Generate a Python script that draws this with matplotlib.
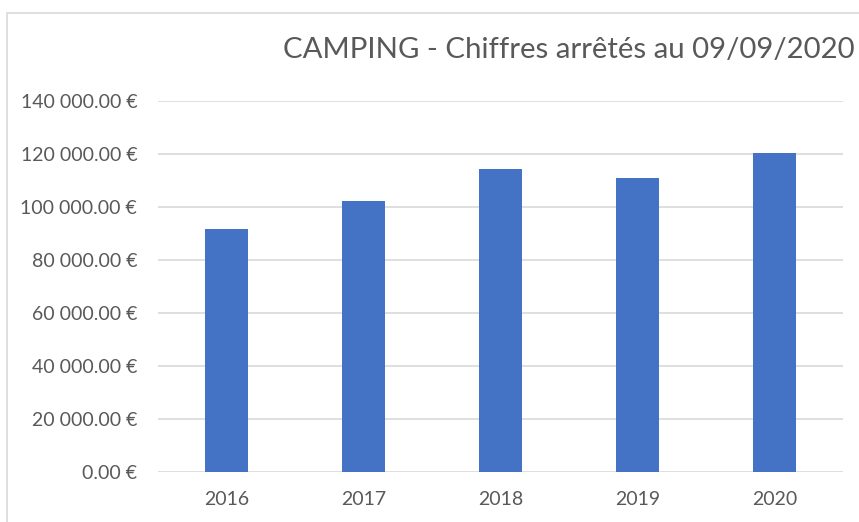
import matplotlib.pyplot as plt
from matplotlib.patches import Rectangle
from matplotlib.ticker import FuncFormatter

years = ['2016', '2017', '2018', '2019', '2020']
chiffres = [91600, 102300, 114300, 110800, 120500]
y_ticks = [0, 20000, 40000, 60000, 80000, 100000, 120000, 140000]
titre = 'CAMPING - Chiffres arrêtés au 09/09/2020'

plt.rcParams['font.family'] = ['Lato', 'DejaVu Sans']

fig = plt.figure(figsize=(8.59, 5.22), dpi=100)
# cadre du graphique (coupé à droite et en bas)
fig.patches.append(Rectangle((7 / 859, -0.1), 1.2, 1.1 - 13 / 522, transform=fig.transFigure,
                             fill=False, edgecolor='#d9d9d9', linewidth=1.2))

ax = fig.add_axes([158 / 859, 1 - 472 / 522, (843 - 158) / 859, (472 - 101) / 522])
ax.bar(range(len(years)), chiffres, width=0.32, color='#4472C4', zorder=3)
ax.set_xlim(-0.5, len(years) - 0.5)
ax.set_ylim(0, 140000)
ax.set_yticks(y_ticks)
ax.set_xticks(range(len(years)))
ax.set_xticklabels(years)
ax.yaxis.set_major_formatter(FuncFormatter(lambda v, p: f"{v:,.2f}".replace(',', ' ') + ' €'))
ax.grid(axis='y', color='#d9d9d9', linewidth=1.2, zorder=0)
for s in ax.spines.values():
    s.set_visible(False)
ax.tick_params(length=0, colors='#595959', labelsize=14)
ax.tick_params(axis='y', pad=15)
ax.tick_params(axis='x', pad=14)

fig.text(283 / 859, 1 - 50 / 522, titre, fontsize=21.2, color='#595959', va='center', ha='left')

plt.savefig('out.png')
